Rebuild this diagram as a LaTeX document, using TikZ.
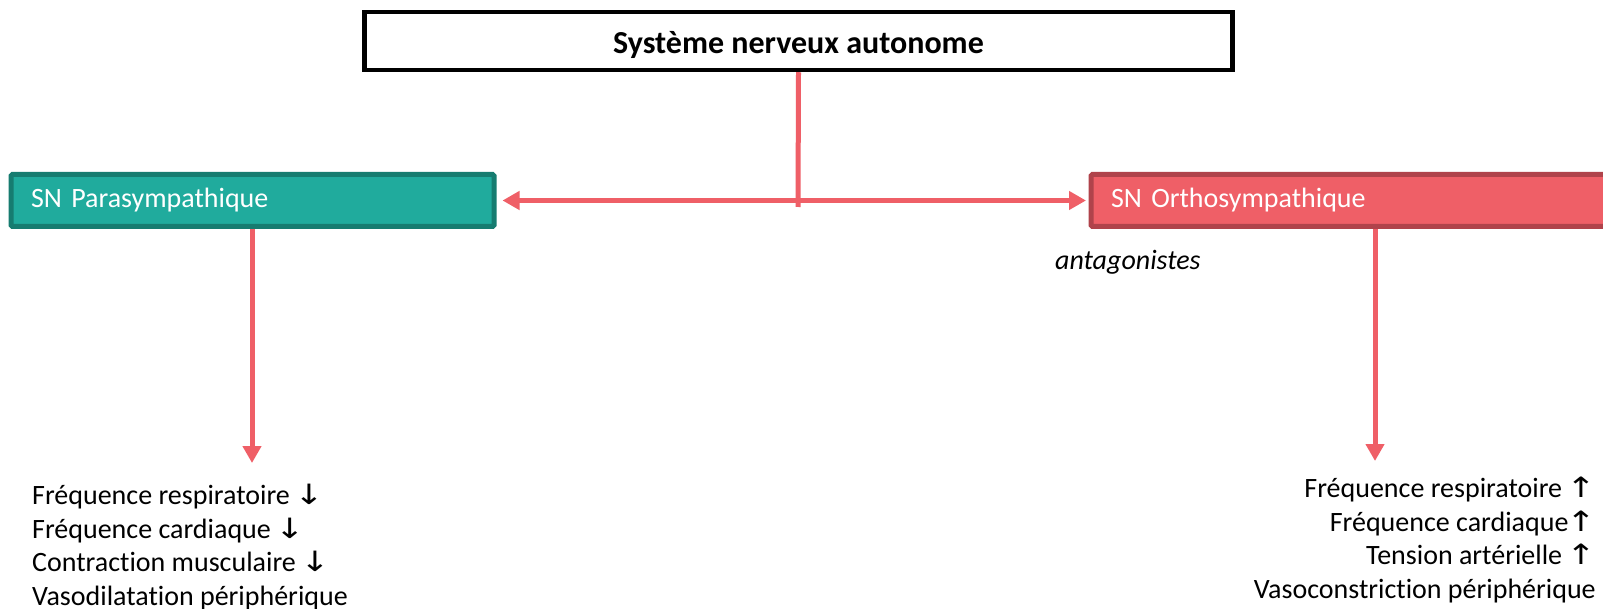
\documentclass[tikz,border=0pt]{standalone}
\usepackage{fontspec}
\setmainfont{Carlito}[Ligatures=NoCommon]
\newfontfamily\arrfont{DejaVu Sans}
\usetikzlibrary{arrows.meta}
\definecolor{tealfill}{RGB}{32,171,157}
\definecolor{tealline}{RGB}{22,124,112}
\definecolor{redfill}{RGB}{239,95,103}
\definecolor{redline}{RGB}{176,67,75}
\newcommand{\dn}{\hspace{-2pt}\scalebox{1.25}[1]{\arrfont\fontsize{28}{33.5}\selectfont ↓}}
\newcommand{\up}{\hspace{-2pt}\scalebox{1.25}[1]{\arrfont\fontsize{28}{33.5}\selectfont ↑}}
\begin{document}
\begin{tikzpicture}[x=1pt,y=-1pt,
  titlebox/.style={draw=black, line width=4.5pt, fill=white, minimum width=868pt, minimum height=58pt, inner sep=0pt, text height=32pt, text depth=6pt, font=\fontsize{32}{38}\selectfont\bfseries},
  branch/.style={line width=5pt, rounded corners=1.5pt, minimum height=52pt, inner ysep=0pt, text=white, align=left, font=\fontsize{28}{32}\selectfont},
  conn/.style={draw=redfill, line width=5pt},
  tip/.style={-{Triangle[length=17pt,width=18pt]}},
  bitip/.style={{Triangle[length=17pt,width=18pt]}-{Triangle[length=17pt,width=18pt]}},
  effects/.style={inner sep=0pt, font=\fontsize{28}{33.5}\selectfont}
]
\useasboundingbox (0,0) rectangle (1603,609);
\fill[white] (0,0) rectangle (1603,609);

\node[titlebox] (top) at (798.5,41) {Système nerveux autonome};
\node[branch, draw=tealline, fill=tealfill, inner xsep=20pt, text width=443pt] (para) at (252.5,200.5) {SN Parasympathique};
\node[branch, draw=redline, fill=redfill, inner xsep=20pt, text width=490pt] (ortho) at (1356,200.5) {SN Orthosympathique};
\node[anchor=west, inner sep=0pt, font=\fontsize{28}{32}\selectfont\itshape] (ant) at (1055,262) {antagonistes};

\coordinate (j) at (798,207);
\coordinate (lend) at (252,463);
\coordinate (rend) at (1375,461);

\draw[conn] (top.south) -- (j);
\draw[conn, bitip, shorten <=6pt, shorten >=2.5pt] (para.east) -- (ortho.west);
\draw[conn, tip] (para.south -| lend) -- (lend);
\draw[conn, tip] (ortho.south -| rend) -- (rend);

\node[effects, anchor=north west, align=left] (leftlist) at (32,484)
  {Fréquence respiratoire \dn\\Fréquence cardiaque \dn\\Contraction musculaire \dn\\Vasodilatation périphérique};
\node[effects, anchor=north east, align=right] (rightlist) at (1596,477)
  {Fréquence respiratoire \up\\Fréquence cardiaque\up\\Tension artérielle \up\\Vasoconstriction périphérique};
\end{tikzpicture}
\end{document}
